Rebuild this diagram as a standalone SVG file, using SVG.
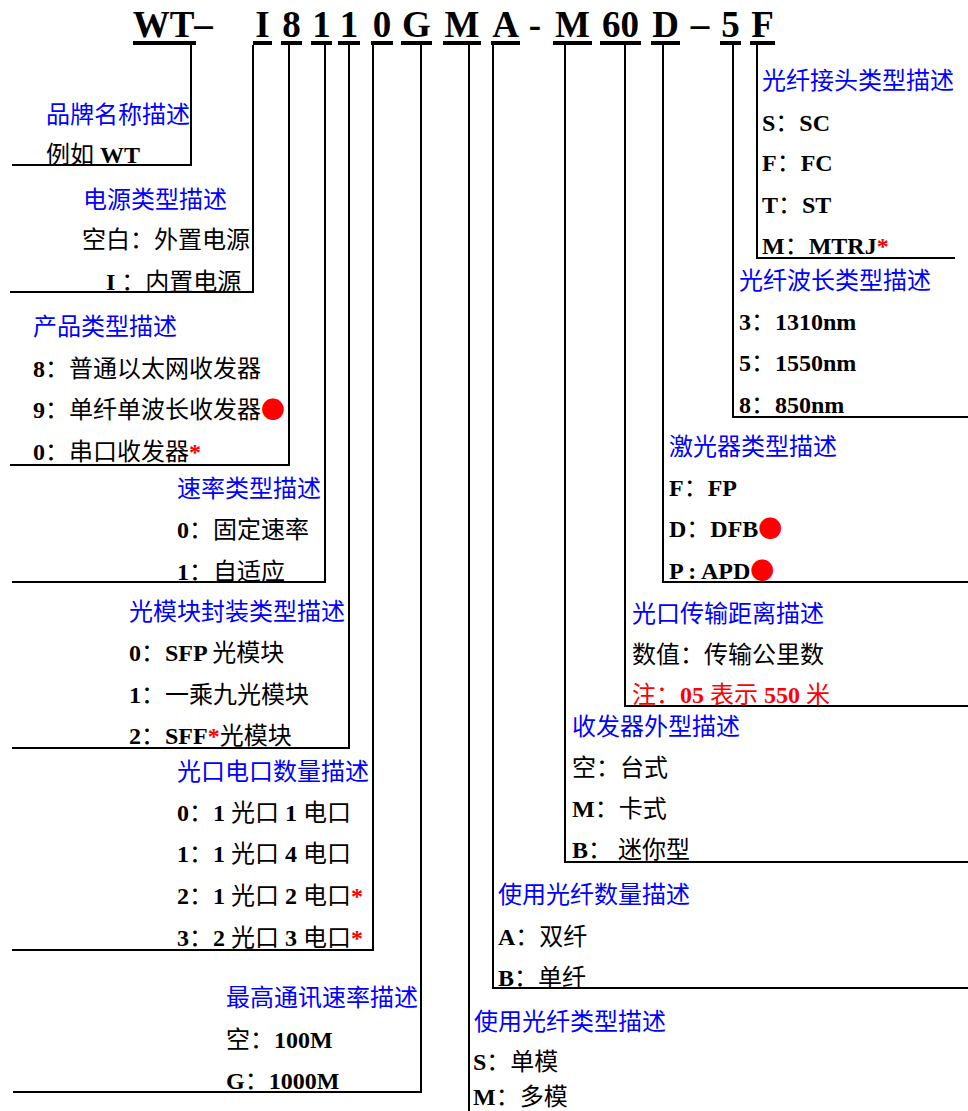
<svg xmlns="http://www.w3.org/2000/svg" width="968" height="1111" viewBox="0 0 968 1111">
<style>
.bg{fill:#fff}
.ti{font-family:"Liberation Serif",serif;font-weight:bold;font-size:37px;fill:#000;text-anchor:middle}
.ul{fill:#000}
.h{font-family:"Noto Sans CJK SC",sans-serif;font-size:24px;fill:#0000ff}
.t{font-family:"Liberation Serif","Noto Sans CJK SC",serif;font-weight:bold;font-size:24px;fill:#000}
.c{font-family:"Noto Sans CJK SC",sans-serif;font-weight:normal}
.r{fill:#ff0000}
.dot{font-family:"Noto Sans CJK SC",sans-serif;font-weight:normal;fill:#ff0000}
.ln{stroke:#000;stroke-width:2;fill:none}
</style>
<rect class="bg" x="0" y="0" width="968" height="1111"/>
<g id="title">
<text class="ti" x="163.5" y="37">WT</text>
<text class="ti" x="203.5" y="37">–</text>
<text class="ti" x="262.5" y="37">I</text>
<text class="ti" x="291.5" y="37">8</text>
<text class="ti" x="321.5" y="37">1</text>
<text class="ti" x="349" y="37">1</text>
<text class="ti" x="382" y="37">0</text>
<text class="ti" x="416.5" y="37">G</text>
<text class="ti" x="462" y="37">M</text>
<text class="ti" x="505.5" y="37">A</text>
<text class="ti" x="535" y="37">-</text>
<text class="ti" x="572.5" y="37">M</text>
<text class="ti" x="620.5" y="37">60</text>
<text class="ti" x="665.5" y="37">D</text>
<text class="ti" x="700" y="37">–</text>
<text class="ti" x="730.5" y="37">5</text>
<text class="ti" x="762.5" y="37">F</text>
<rect class="ul" x="133" y="41" width="63" height="4"/>
<rect class="ul" x="253" y="41" width="19" height="4"/>
<rect class="ul" x="281" y="41" width="21" height="4"/>
<rect class="ul" x="311" y="41" width="21" height="4"/>
<rect class="ul" x="338" y="41" width="22" height="4"/>
<rect class="ul" x="371" y="41" width="22" height="4"/>
<rect class="ul" x="401" y="41" width="31" height="4"/>
<rect class="ul" x="443" y="41" width="38" height="4"/>
<rect class="ul" x="491" y="41" width="29" height="4"/>
<rect class="ul" x="553" y="41" width="39" height="4"/>
<rect class="ul" x="600" y="41" width="41" height="4"/>
<rect class="ul" x="651" y="41" width="29" height="4"/>
<rect class="ul" x="720" y="41" width="21" height="4"/>
<rect class="ul" x="750" y="41" width="25" height="4"/>
</g>
<g id="connectors">
<polyline class="ln" points="191,45 191,165 12,165"/>
<polyline class="ln" points="253,45 253,292 10,292"/>
<polyline class="ln" points="289,45 289,465 10,465"/>
<polyline class="ln" points="325,45 325,582 12,582"/>
<polyline class="ln" points="349,45 349,748 12,748"/>
<polyline class="ln" points="373,45 373,950 12,950"/>
<polyline class="ln" points="421,45 421,1092 13,1092"/>
<polyline class="ln" points="469,45 469,1111"/>
<polyline class="ln" points="493,45 493,988 968,988"/>
<polyline class="ln" points="565,45 565,862 968,862"/>
<polyline class="ln" points="625,45 625,706 968,706"/>
<polyline class="ln" points="663,45 663,582 968,582"/>
<polyline class="ln" points="733,45 733,417 968,417"/>
<polyline class="ln" points="757,45 757,258 955,258"/>
</g>
<g id="brand">
<text class="h" x="46" y="123">品牌名称描述</text>
<text class="t" x="46" y="163"><tspan class="c">例如</tspan> WT</text>
</g>
<g id="power">
<text class="h" x="83" y="208">电源类型描述</text>
<text class="t" x="82" y="248"><tspan class="c">空白：外置电源</tspan></text>
<text class="t" x="106" y="290">I <tspan class="c">：内置电源</tspan></text>
</g>
<g id="product">
<text class="h" x="33" y="335">产品类型描述</text>
<text class="t" x="33" y="377">8<tspan class="c">：普通以太网收发器</tspan></text>
<text class="t" x="33" y="418">9<tspan class="c">：单纤单波长收发器</tspan><tspan class="dot">●</tspan></text>
<text class="t" x="33" y="460">0<tspan class="c">：串口收发器</tspan><tspan class="r">*</tspan></text>
</g>
<g id="rate-type">
<text class="h" x="177" y="497">速率类型描述</text>
<text class="t" x="177" y="538">0<tspan class="c">：固定速率</tspan></text>
<text class="t" x="177" y="580">1<tspan class="c">：自适应</tspan></text>
</g>
<g id="module">
<text class="h" x="129" y="620">光模块封装类型描述</text>
<text class="t" x="129" y="661">0<tspan class="c">：</tspan>SFP <tspan class="c">光模块</tspan></text>
<text class="t" x="129" y="703">1<tspan class="c">：一乘九光模块</tspan></text>
<text class="t" x="129" y="744">2<tspan class="c">：</tspan>SFF<tspan class="r">*</tspan><tspan class="c">光模块</tspan></text>
</g>
<g id="ports">
<text class="h" x="177" y="780">光口电口数量描述</text>
<text class="t" x="177" y="821">0<tspan class="c">：</tspan>1 <tspan class="c">光口</tspan> 1 <tspan class="c">电口</tspan></text>
<text class="t" x="177" y="862">1<tspan class="c">：</tspan>1 <tspan class="c">光口</tspan> 4 <tspan class="c">电口</tspan></text>
<text class="t" x="177" y="904">2<tspan class="c">：</tspan>1 <tspan class="c">光口</tspan> 2 <tspan class="c">电口</tspan><tspan class="r">*</tspan></text>
<text class="t" x="177" y="946">3<tspan class="c">：</tspan>2 <tspan class="c">光口</tspan> 3 <tspan class="c">电口</tspan><tspan class="r">*</tspan></text>
</g>
<g id="speed">
<text class="h" x="226" y="1006">最高通讯速率描述</text>
<text class="t" x="226" y="1048"><tspan class="c">空：</tspan>100M</text>
<text class="t" x="226" y="1089">G<tspan class="c">：</tspan>1000M</text>
</g>
<g id="fiber-type">
<text class="h" x="474" y="1030">使用光纤类型描述</text>
<text class="t" x="473" y="1070">S<tspan class="c">：单模</tspan></text>
<text class="t" x="473" y="1105">M<tspan class="c">：多模</tspan></text>
</g>
<g id="fiber-count">
<text class="h" x="498" y="903">使用光纤数量描述</text>
<text class="t" x="498" y="945">A<tspan class="c">：双纤</tspan></text>
<text class="t" x="498" y="986">B<tspan class="c">：单纤</tspan></text>
</g>
<g id="form">
<text class="h" x="572" y="735">收发器外型描述</text>
<text class="t" x="572" y="776"><tspan class="c">空：台式</tspan></text>
<text class="t" x="572" y="817">M<tspan class="c">：卡式</tspan></text>
<text class="t" x="572" y="858">B<tspan class="c">：</tspan> <tspan class="c">迷你型</tspan></text>
</g>
<g id="distance">
<text class="h" x="632" y="622">光口传输距离描述</text>
<text class="t" x="632" y="663"><tspan class="c">数值：传输公里数</tspan></text>
<text class="t r" x="632" y="703"><tspan class="c">注：</tspan>05 <tspan class="c">表示</tspan> 550 <tspan class="c">米</tspan></text>
</g>
<g id="laser">
<text class="h" x="669" y="455">激光器类型描述</text>
<text class="t" x="669" y="496">F<tspan class="c">：</tspan>FP</text>
<text class="t" x="669" y="537">D<tspan class="c">：</tspan>DFB<tspan class="dot">●</tspan></text>
<text class="t" x="669" y="579">P : APD<tspan class="dot">●</tspan></text>
</g>
<g id="wavelength">
<text class="h" x="739" y="289">光纤波长类型描述</text>
<text class="t" x="739" y="330">3<tspan class="c">：</tspan>1310nm</text>
<text class="t" x="739" y="371">5<tspan class="c">：</tspan>1550nm</text>
<text class="t" x="739" y="413">8<tspan class="c">：</tspan>850nm</text>
</g>
<g id="connector-type">
<text class="h" x="762" y="89">光纤接头类型描述</text>
<text class="t" x="762" y="131">S<tspan class="c">：</tspan>SC</text>
<text class="t" x="762" y="171">F<tspan class="c">：</tspan>FC</text>
<text class="t" x="762" y="213">T<tspan class="c">：</tspan>ST</text>
<text class="t" x="762" y="254">M<tspan class="c">：</tspan>MTRJ<tspan class="r">*</tspan></text>
</g>
</svg>
